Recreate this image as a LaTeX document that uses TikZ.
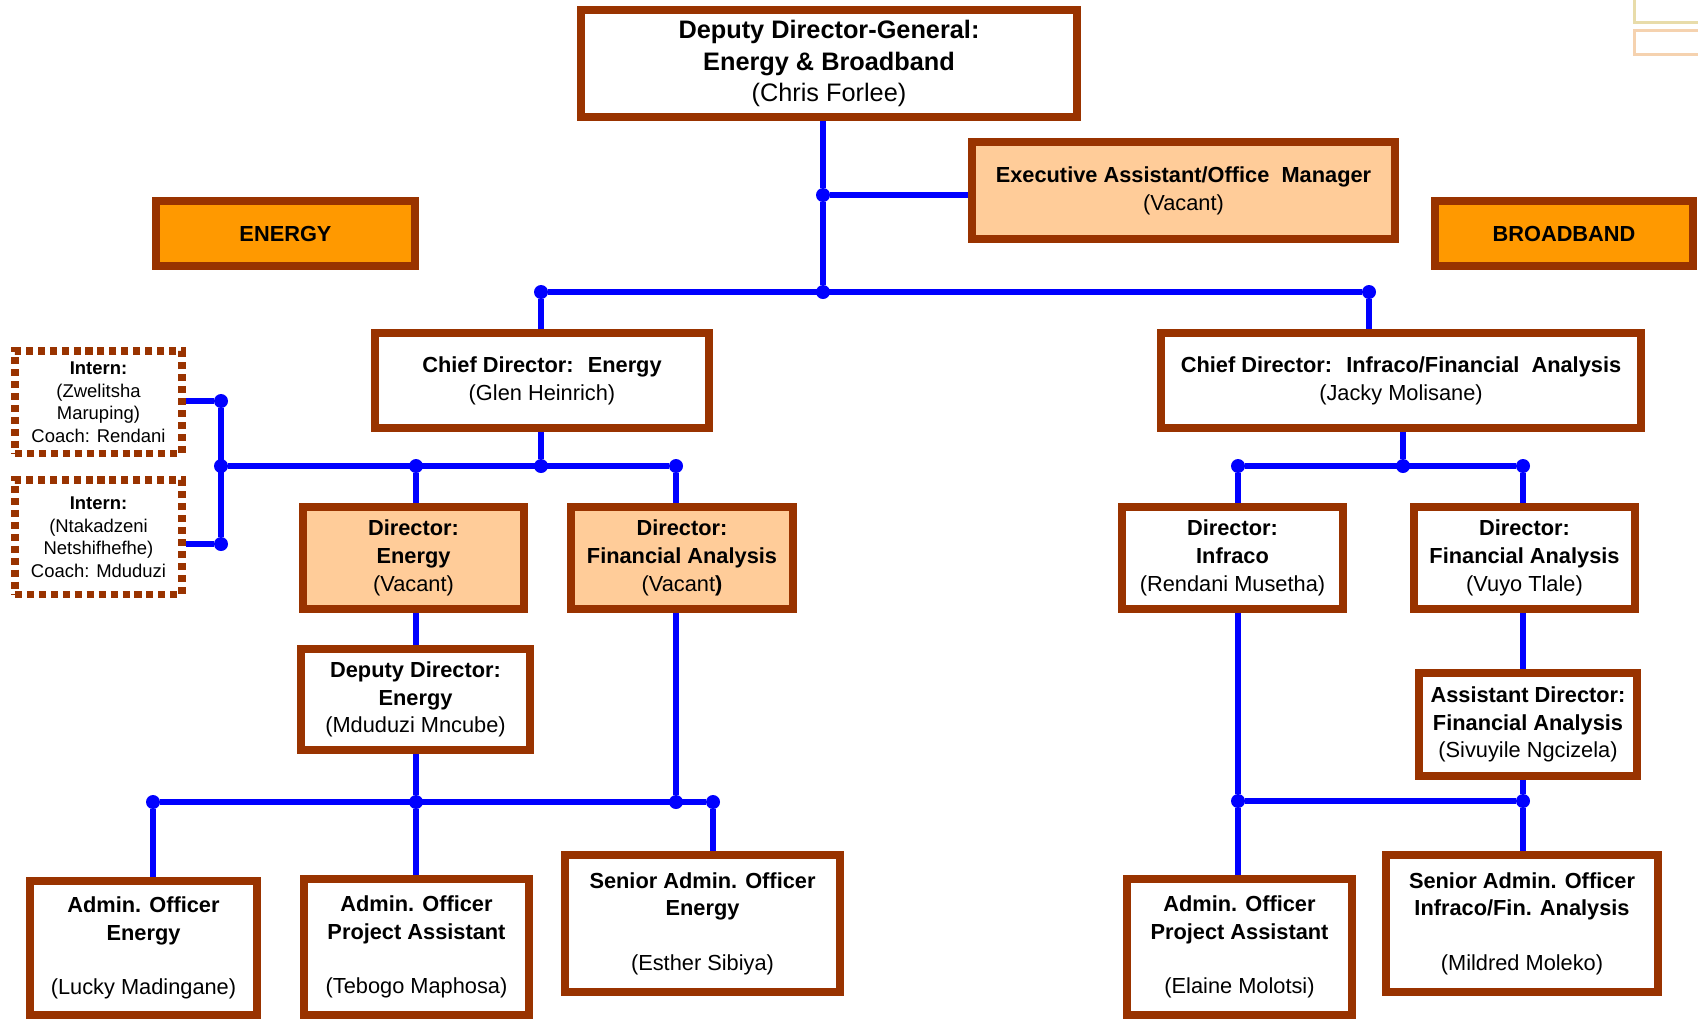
\documentclass[tikz,border=0pt]{standalone}
\usepackage{fontspec}
\setmainfont{Liberation Sans}
\usetikzlibrary{backgrounds}
\definecolor{boxbrown}{RGB}{153, 51, 0}
\definecolor{linkblue}{RGB}{0, 0, 255}
\definecolor{vacantfill}{RGB}{255, 204, 153}
\definecolor{unitfill}{RGB}{255, 153, 0}
\definecolor{paleyellow}{RGB}{232, 220, 170}
\definecolor{paleorange}{RGB}{245, 210, 175}

\begin{document}
\begin{tikzpicture}[x=0.2mm, y=-0.2mm,
        post/.style={draw=boxbrown, line width=4.55pt, fill=white, align=center,
          inner sep=0pt, font=\fontsize{12.4}{15.8}\selectfont},
        vacant/.style={post, fill=vacantfill},
        unit/.style={post, fill=unitfill},
        intern/.style={draw=boxbrown, line width=4pt, dash pattern=on 4pt off 2.8pt,
          fill=white, align=center, inner sep=0pt, font=\fontsize{10.5}{12.8}\selectfont},
        link/.style={draw=linkblue, line width=3.4pt},
        joint/.style={circle, fill=linkblue, inner sep=0pt, minimum size=2.8mm}]

        \useasboundingbox (0,0) rectangle (1698,1021);
        \clip (0,0) rectangle (1698,1021);

        % Cut-off boxes at the top right
        \draw[paleyellow, line width=0.6mm] (1634,-20) rectangle (1720,22);
        \draw[paleorange, line width=0.6mm] (1634,30) rectangle (1720,54);

        % Top level
        \node[post, minimum width=99.2mm, minimum height=21.4mm, font=\fontsize{14.4}{17.8}\selectfont]
          (ddg) at (829,63.5) {\textbf{Deputy Director-General:}\\\textbf{Energy \& Broadband}\\(Chris Forlee)};
        \node[vacant, minimum width=84.6mm, minimum height=19.4mm]
          (exa) at (1183.5,190.5) {\textbf{Executive Assistant/Office~ Manager}\\(Vacant)};
        \node[unit, minimum width=51.8mm, minimum height=13mm] (energy) at (285.5,233.5) {\textbf{ENERGY}};
        \node[unit, minimum width=51.6mm, minimum height=13mm] (broadband) at (1564,233.5) {\textbf{BROADBAND}};

        % Chief directors
        \node[post, minimum width=66.8mm, minimum height=19mm]
          (cde) at (542,380.5) {\textbf{Chief Director:~ Energy}\\(Glen Heinrich)};
        \node[post, minimum width=96mm, minimum height=19mm]
          (cdi) at (1401,380.5) {\textbf{Chief Director:~ Infraco/Financial~ Analysis}\\(Jacky Molisane)};

        % Interns
        \node[intern, minimum width=33.4mm, minimum height=20.4mm]
          (int1) at (98.5,402) {\textbf{Intern:}\\(Zwelitsha\\Maruping)\\Coach: Rendani};
        \node[intern, minimum width=33.4mm, minimum height=22.8mm]
          (int2) at (98.5,537) {\textbf{Intern:}\\(Ntakadzeni\\Netshifhefhe)\\Coach: Mduduzi};

        % Directors
        \node[vacant, minimum width=44.2mm, minimum height=20.4mm]
          (dire) at (413.5,558) {\textbf{Director:}\\\textbf{Energy}\\(Vacant)};
        \node[vacant, minimum width=44.4mm, minimum height=20.4mm]
          (dirfa) at (682,558) {\textbf{Director:}\\\textbf{Financial Analysis}\\(Vacant\textbf{)}};
        \node[post, minimum width=44.2mm, minimum height=20.4mm]
          (diri) at (1232.5,558) {\textbf{Director:}\\\textbf{Infraco}\\(Rendani Musetha)};
        \node[post, minimum width=44.2mm, minimum height=20.4mm]
          (dirfb) at (1524.5,558) {\textbf{Director:}\\\textbf{Financial Analysis}\\(Vuyo Tlale)};

        % Deputy / assistant directors
        \node[post, minimum width=45.8mm, minimum height=20.2mm]
          (dde) at (415.5,699.5) {\textbf{Deputy Director:}\\\textbf{Energy}\\(Mduduzi Mncube)};
        \node[post, minimum width=43.6mm, minimum height=20.6mm]
          (adfa) at (1528,724.5) {\textbf{Assistant Director:}\\\textbf{Financial Analysis}\\(Sivuyile Ngcizela)};

        % Officers
        \node[post, minimum width=45.4mm, minimum height=26.8mm]
          (aoe) at (143.5,948) {\textbf{Admin. Officer}\\\textbf{Energy}\\[15pt](Lucky Madingane)};
        \node[post, minimum width=45mm, minimum height=27.2mm]
          (aopl) at (416.5,947) {\textbf{Admin. Officer}\\\textbf{Project Assistant}\\[15pt](Tebogo Maphosa)};
        \node[post, minimum width=55mm, minimum height=27.4mm]
          (saoe) at (702.5,923.5) {\textbf{Senior Admin. Officer}\\\textbf{Energy}\\[15pt](Esther Sibiya)};
        \node[post, minimum width=45mm, minimum height=27.2mm]
          (aopr) at (1239.5,947) {\textbf{Admin. Officer}\\\textbf{Project Assistant}\\[15pt](Elaine Molotsi)};
        \node[post, minimum width=54.4mm, minimum height=27.4mm]
          (saoi) at (1522,923.5) {\textbf{Senior Admin. Officer}\\\textbf{Infraco/Fin. Analysis}\\[15pt](Mildred Moleko)};

        % Junctions
        \node[joint] (jx) at (823,195) {};
        \node[joint] (jt) at (823,292) {};
        \node[joint] (jl) at (541,292) {};
        \node[joint] (jr) at (1369,292) {};
        \node[joint] (je) at (541,466) {};
        \node[joint] (je1) at (416,466) {};
        \node[joint] (je2) at (676,466) {};
        \node[joint] (ji) at (221,466) {};
        \node[joint] (ji1) at (221,401) {};
        \node[joint] (ji2) at (221,544) {};
        \node[joint] (jb1) at (153,802) {};
        \node[joint] (jb2) at (416,802) {};
        \node[joint] (jb3) at (676,802) {};
        \node[joint] (jb4) at (713,802) {};
        \node[joint] (jf) at (1403,466) {};
        \node[joint] (jf1) at (1238,466) {};
        \node[joint] (jf2) at (1523,466) {};
        \node[joint] (jg1) at (1238,801) {};
        \node[joint] (jg2) at (1523,801) {};

        % Reporting lines
        \begin{scope}[on background layer]
          \draw[link] (ddg.south -| jx) -- (jx) -- (jt);
          \draw[link] (jx) -- (exa.west |- jx);
          \draw[link] (jl) -- (jr);
          \draw[link] (jl) -- (cde.north -| jl);
          \draw[link] (jr) -- (cdi.north -| jr);
          % energy side
          \draw[link] (cde.south -| je) -- (je);
          \draw[link] (ji) -- (je2);
          \draw[link] (ji1) -- (ji2);
          \draw[link] (int1.east |- ji1) -- (ji1);
          \draw[link] (int2.east |- ji2) -- (ji2);
          \draw[link] (je1) -- (dire.north -| je1);
          \draw[link] (je2) -- (dirfa.north -| je2);
          \draw[link] (dire.south -| je1) -- (dde.north -| je1);
          \draw[link] (dde.south -| jb2) -- (jb2);
          \draw[link] (dirfa.south -| jb3) -- (jb3);
          \draw[link] (jb1) -- (jb4);
          \draw[link] (jb1) -- (aoe.north -| jb1);
          \draw[link] (jb2) -- (aopl.north -| jb2);
          \draw[link] (jb4) -- (saoe.north -| jb4);
          % broadband side
          \draw[link] (cdi.south -| jf) -- (jf);
          \draw[link] (jf1) -- (jf2);
          \draw[link] (jf1) -- (diri.north -| jf1);
          \draw[link] (jf2) -- (dirfb.north -| jf2);
          \draw[link] (diri.south -| jg1) -- (jg1) -- (aopr.north -| jg1);
          \draw[link] (dirfb.south -| jg2) -- (adfa.north -| jg2);
          \draw[link] (adfa.south -| jg2) -- (jg2) -- (saoi.north -| jg2);
          \draw[link] (jg1) -- (jg2);
        \end{scope}

\end{tikzpicture}
\end{document}
